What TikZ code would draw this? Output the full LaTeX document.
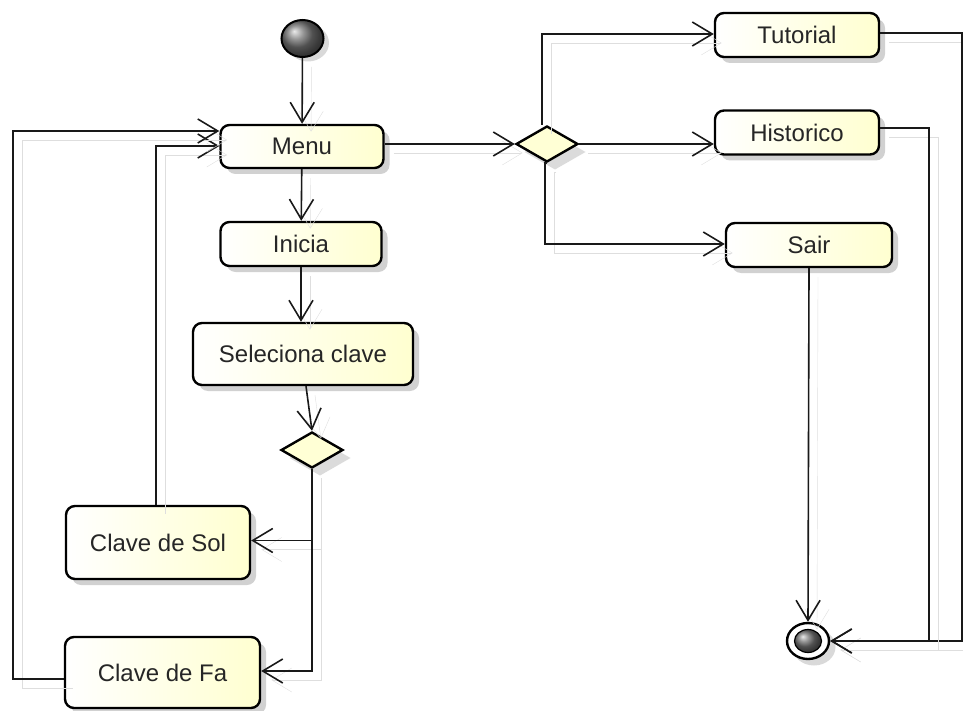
\documentclass[tikz,border=0pt]{standalone}
\usepackage{fontspec}
\setmainfont{Liberation Sans}
\usetikzlibrary{arrows.meta,shapes.geometric,shadows}
\definecolor{actfill}{RGB}{255,255,208}
\definecolor{shadowgray}{RGB}{222,222,222}
\begin{document}
\begin{tikzpicture}[x=1pt,y=-1pt,
  action/.style={rectangle, rounded corners=9pt, draw=black, line width=2.4pt,
    left color=white, right color=actfill, text=black!85,
    font=\fontsize{24}{28}\selectfont, inner sep=0pt,
    drop shadow={shadow xshift=6pt, shadow yshift=-6pt, fill=black!18, opacity=1}},
  decision/.style={diamond, draw=black, line width=2.4pt, fill=actfill!90,
    inner sep=0pt, minimum width=62pt, minimum height=36pt,
    drop shadow={shadow xshift=8pt, shadow yshift=-8pt, fill=black!14, opacity=1}},
  flow/.style={line width=1.6pt, draw=black!90,
    -{Straight Barb[length=20pt,width=24pt,line width=1.6pt]},
    preaction={draw=shadowgray, transform canvas={shift={(9pt,-9pt)}}}}
]
\useasboundingbox (0,0) rectangle (963,711);

% activity nodes
\node[action, minimum width=163pt, minimum height=43pt] (menu)   at (302,146.5) {Menu};
\node[action, minimum width=161pt, minimum height=44pt] (inicia) at (301,244)   {Inicia};
\node[action, minimum width=220pt, minimum height=62pt] (sel)    at (303,354)   {Seleciona clave};
\node[action, minimum width=184pt, minimum height=73pt] (sol)    at (158,542.5) {Clave de Sol};
\node[action, minimum width=195pt, minimum height=71pt] (fa)     at (162.5,672.5) {Clave de Fa};
\node[action, minimum width=164pt, minimum height=44pt] (tut)    at (797,35)    {Tutorial};
\node[action, minimum width=164pt, minimum height=44pt] (hist)   at (797,132.5) {Historico};
\node[action, minimum width=166pt, minimum height=44pt] (sair)   at (809,245)   {Sair};

% decision nodes
\node[decision] (d1) at (547,144) {};
\node[decision] (d2) at (312,450) {};

% initial node
\fill[black!15] (308,43) ellipse [x radius=21pt, y radius=18.5pt];
\node[ellipse, draw=black, line width=2pt, minimum width=42pt, minimum height=37pt,
  inner sep=0pt, shading=ball, ball color=black!55] (init) at (302.5,38.5) {};

% final node
\fill[black!15] (814,647) ellipse [x radius=21.5pt, y radius=18.5pt];
\node[ellipse, draw=black, line width=2.4pt, fill=white, minimum width=42pt,
  minimum height=36pt, inner sep=0pt] (fin) at (808,641) {};
\node[ellipse, draw=black, line width=1.2pt, minimum width=27pt, minimum height=23pt,
  inner sep=0pt, shading=ball, ball color=black!55] (fincore) at (808,641) {};

% control flows
\draw[flow] (init) -- (menu);
\draw[flow] (menu) -- (inicia);
\draw[flow] (inicia.south) -- (inicia.south |- sel.north);
\draw[flow] ([xshift=3pt]sel.south) -- (d2.north);
\draw[flow] (d2.south) |- ([yshift=2pt]sol.east);
\draw[flow] (d2.south) |- ([yshift=1.5pt]fa.east);
\draw[flow] ([xshift=-2pt]sol.north) |- ([yshift=0.5pt]menu.west);
\draw[flow] ([yshift=-6.5pt]fa.west) -- ++(-51,0) |- ([yshift=15.5pt]menu.west);
\draw[flow] (menu.east |- d1.west) -- (d1.west);
\draw[flow] ([xshift=-5pt]d1.north) |- ([yshift=1pt]tut.west);
\draw[flow] (d1.east) -- (d1.east -| hist.west);
\draw[flow] (d1.south) -- ++(-2,0) |- ([yshift=1pt]sair.west);
\draw[flow] (sair.south) -- (fin.north);
\draw[flow] ([yshift=2pt]tut.east) -- ++(82,0) |- (fin.east);
\draw[flow] ([yshift=4.5pt]hist.east) -- ++(49,0) |- (fin.east);
\end{tikzpicture}
\end{document}
